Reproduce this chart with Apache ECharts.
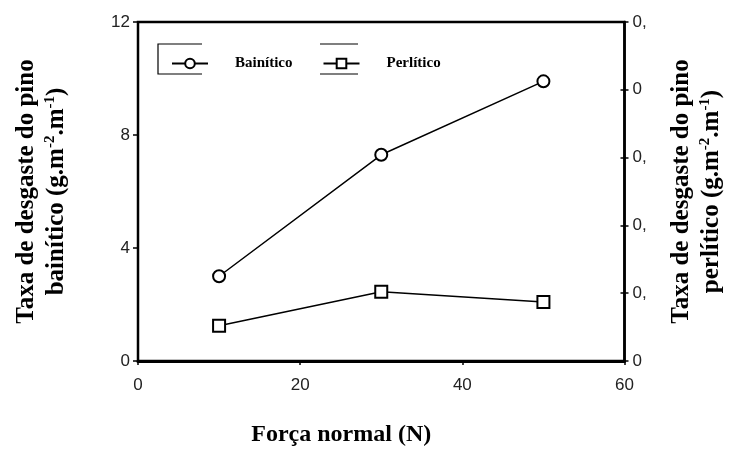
<!DOCTYPE html>
<html><head><meta charset="utf-8">
<script src="https://cdn.jsdelivr.net/npm/echarts@6/dist/echarts.min.js"></script>
<style>html,body{margin:0;padding:0;background:#fff}#c{width:732px;height:452px}</style>
</head><body><div id="c"></div>
<script>
var forca = [10, 30, 50];
var bainitico = [3.0, 7.3, 9.9];
var perlitico = [0.052, 0.102, 0.087];
var xTicks = [0, 20, 40, 60];
var leftTicks = [0, 4, 8, 12];
var rightTickLabels = ['0', '0,', '0,', '0,', '0', '0,'];

var serif = '"Liberation Serif","Times New Roman",serif';
var sans = '"Liberation Sans",Arial,sans-serif';
var titleRich = {
  t: {fontFamily: serif, fontWeight: 'bold', fontSize: 25, lineHeight: 30, color: '#000'},
  s: {fontFamily: serif, fontWeight: 'bold', fontSize: 15, lineHeight: 30, verticalAlign: 'top', padding: [1, 0, 0, 0], color: '#000'}
};
var chart = echarts.init(document.getElementById('c'), null, {renderer: 'canvas'});
chart.setOption({
  animation: false,
  backgroundColor: '#fff',
  grid: {left: 138, right: 97, top: 22, bottom: 87, show: true, borderColor: '#000', borderWidth: 2.5},
  legend: {
    left: 166, top: 51, itemWidth: 36, itemHeight: 12, itemGap: 30,
    selectedMode: false,
    textStyle: {fontFamily: serif, fontWeight: 'bold', fontSize: 15, color: '#000', padding: [0, 0, 0, 22]},
    data: ['Bainítico', 'Perlítico']
  },
  graphic: [
    {type: 'polyline', shape: {points: [[202, 44], [158, 44], [158, 74], [202, 74]]}, style: {stroke: '#000', lineWidth: 1.2, fill: null}},
    {type: 'line', shape: {x1: 320, y1: 44, x2: 358, y2: 44}, style: {stroke: '#000', lineWidth: 1.2}},
    {type: 'line', shape: {x1: 320, y1: 74, x2: 358, y2: 74}, style: {stroke: '#000', lineWidth: 1.2}}
  ],
  xAxis: {
    type: 'value', min: xTicks[0], max: xTicks[xTicks.length - 1], interval: 20,
    name: 'Força normal (N)', nameLocation: 'middle', nameGap: 62,
    nameTextStyle: {fontFamily: serif, fontWeight: 'bold', fontSize: 24, color: '#000', padding: [0, 80, 0, 0]},
    axisLine: {lineStyle: {color: '#000', width: 3}},
    axisTick: {length: 4, lineStyle: {color: '#000', width: 1.5}},
    axisLabel: {margin: 16, fontFamily: sans, fontSize: 17, color: '#222'},
    splitLine: {show: false}
  },
  yAxis: [{
    type: 'value', min: leftTicks[0], max: leftTicks[leftTicks.length - 1], interval: 4,
    name: '{t|Taxa de desgaste do pino}\n{t|bainítico (g.m}{s|-2}{t|.m}{s|-1}{t|)}',
    nameLocation: 'middle', nameGap: 66, nameRotate: 90,
    nameTextStyle: {rich: titleRich, align: 'center'},
    axisLine: {lineStyle: {color: '#000', width: 2}},
    axisTick: {length: 5, lineStyle: {color: '#000', width: 1.5}},
    axisLabel: {margin: 8, fontFamily: sans, fontSize: 17, color: '#222'},
    splitLine: {show: false}
  }, {
    type: 'value', position: 'right', min: 0, max: 0.5, interval: 0.1,
    name: '{t|Taxa de desgaste do pino}\n{t|perlítico (g.m}{s|-2}{t|.m}{s|-1}{t|)}',
    nameLocation: 'middle', nameGap: 42, nameRotate: 90,
    nameTextStyle: {rich: titleRich, align: 'center'},
    axisLine: {show: true, lineStyle: {color: '#000', width: 2.5}},
    axisTick: {show: true, length: 4, lineStyle: {color: '#000', width: 1.5}},
    axisLabel: {margin: 8, fontFamily: sans, fontSize: 17, color: '#222',
      formatter: function (v) { return rightTickLabels[Math.round(v * 10)]; }},
    splitLine: {show: false}
  }, {
    type: 'value', position: 'right', min: 0, max: 0.5, interval: 0.1,
    axisLine: {show: false},
    axisTick: {show: true, inside: true, length: 4, lineStyle: {color: '#000', width: 1.5}},
    axisLabel: {show: false},
    splitLine: {show: false}
  }],
  series: [{
    name: 'Bainítico', type: 'line', yAxisIndex: 0,
    data: forca.map(function (x, i) { return [x, bainitico[i]]; }),
    symbol: 'emptyCircle', symbolSize: 12,
    lineStyle: {color: '#000', width: 1.5},
    itemStyle: {color: '#000', borderColor: '#000', borderWidth: 1.5}
  }, {
    name: 'Perlítico', type: 'line', yAxisIndex: 1,
    data: forca.map(function (x, i) { return [x, perlitico[i]]; }),
    symbol: 'emptyRect', symbolSize: 12,
    lineStyle: {color: '#000', width: 1.5},
    itemStyle: {color: '#000', borderColor: '#000', borderWidth: 1.5}
  }]
});
</script></body></html>
